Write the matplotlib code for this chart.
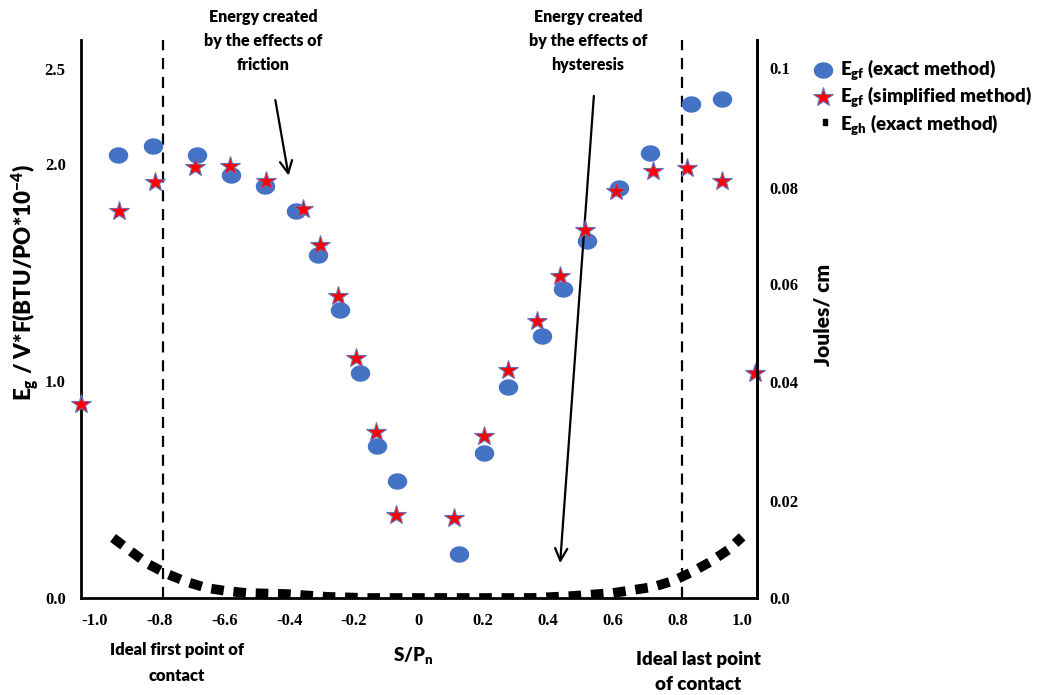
import numpy as np
import matplotlib
matplotlib.use("Agg")
import matplotlib.pyplot as plt
from matplotlib.path import Path

# data
x_exact = [-0.928, -0.822, -0.686, -0.581, -0.474, -0.379, -0.311, -0.244, -0.181, -0.128,
           -0.066, 0.124, 0.202, 0.278, 0.382, 0.446, 0.520, 0.620, 0.716, 0.843, 0.939]
egf_exact = [2.042, 2.083, 2.042, 1.949, 1.898, 1.783, 1.580, 1.328, 1.036, 0.699,
             0.540, 0.205, 0.670, 0.975, 1.210, 1.426, 1.646, 1.891, 2.052, 2.280, 2.303]

x_simpl = [-1.043, -0.927, -0.815, -0.690, -0.583, -0.471, -0.357, -0.304, -0.249, -0.193,
           -0.132, -0.070, 0.109, 0.203, 0.278, 0.367, 0.437, 0.515, 0.610, 0.724,
           0.829, 0.937, 1.040]
egf_simpl = [0.896, 1.784, 1.918, 1.988, 1.992, 1.923, 1.795, 1.630, 1.392, 1.105,
             0.767, 0.383, 0.371, 0.748, 1.053, 1.279, 1.487, 1.695, 1.875, 1.969,
             1.985, 1.923, 1.036]

x_egh = [-0.944, -0.886, -0.836, -0.777, -0.716, -0.654, -0.592, -0.530, -0.406, -0.280,
         -0.156, -0.029, 0.097, 0.221, 0.351, 0.474, 0.601, 0.725, 0.787, 0.845,
         0.901, 0.957, 1.0]
egh_exact = [0.277, 0.212, 0.157, 0.111, 0.074, 0.046, 0.032, 0.023, 0.018, 0.005,
             0.0, 0.0, 0.0, 0.0, 0.0, 0.009, 0.023, 0.051, 0.079, 0.120,
             0.166, 0.222, 0.282]

contact_lines = [-0.79, 0.815]

x_ticks = [-1.0, -0.8, -0.6, -0.4, -0.2, 0.0, 0.2, 0.4, 0.6, 0.8, 1.0]
x_tick_labels = ["-1.0", "-0.8", "-6.6", "-0.4", "-0.2", "0", "0.2", "0.4", "0.6", "0.8", "1.0"]
left_ticks = [0.0, 1.0, 2.0, 2.44]
left_tick_labels = ["0.0", "1.0", "2.0", "2.5"]
right_ticks = [0.0, 0.448, 0.998, 1.446, 1.889, 2.443]
right_tick_labels = ["0.0", "0.02", "0.04", "0.06", "0.08", "0.1"]

SANS = ["Lato", "DejaVu Sans"]
SERIF = ["Liberation Serif", "DejaVu Serif"]
WEIGHT = "heavy"
plt.rcParams["mathtext.fontset"] = "custom"
plt.rcParams["mathtext.rm"] = "Lato:heavy"
plt.rcParams["mathtext.bf"] = "Lato:heavy"
plt.rcParams["mathtext.it"] = "Lato:heavy"

W, H = 1043, 695
fig = plt.figure(figsize=(W / 100, H / 100), dpi=100)
ax = fig.add_axes([81 / W, 1 - 598 / H, (757 - 81) / W, (598 - 40) / H])

t = np.linspace(0, 2 * np.pi, 60)
ellipse = Path(np.column_stack([1.2 * np.cos(t), np.sin(t)]), closed=True)
rect = Path([(0, 0), (0.7, 0), (0.7, 1), (0, 1), (0, 0)], closed=True)

blue = "#4472C4"
ax.plot(x_egh, egh_exact, color="black", lw=7, linestyle=(0, (1.3, 1.0)),
        solid_capstyle="butt", dash_capstyle="butt", zorder=2)
ax.plot(x_exact, egf_exact, linestyle="none", marker=ellipse, markersize=13,
        color=blue, markeredgecolor=blue, zorder=3)
ax.plot(x_simpl, egf_simpl, linestyle="none", marker="*", markersize=15,
        markerfacecolor="#FF0000", markeredgecolor="#6A6FB8", markeredgewidth=0.8,
        zorder=4, clip_on=False)

for xv in contact_lines:
    ax.axvline(xv, color="black", lw=1.6, linestyle=(0, (5, 3.5)), zorder=1)

ax.set_xlim(-1.043, 1.046)
ax.set_ylim(0, 2.573)
ax.set_xticks(x_ticks)
ax.set_xticklabels(x_tick_labels, family=SERIF, fontweight="bold", fontsize=12)
ax.set_yticks(left_ticks)
ax.set_yticklabels(left_tick_labels, family=SERIF, fontweight="bold", fontsize=12)
ax.tick_params(length=0, pad=11)
for s in ["left", "bottom", "right"]:
    ax.spines[s].set_linewidth(2)
ax.spines["top"].set_visible(False)

ax2 = ax.twinx()
ax2.set_ylim(ax.get_ylim())
ax2.set_yticks(right_ticks)
ax2.set_yticklabels(right_tick_labels, family=SERIF, fontweight="bold", fontsize=12)
ax2.tick_params(length=0, pad=9)
for s in ["top", "left", "bottom"]:
    ax2.spines[s].set_visible(False)
ax2.spines["right"].set_linewidth(2)

# arrows
ax.annotate("", xy=(-0.400, 1.935), xytext=(-0.444, 2.309),
            arrowprops=dict(arrowstyle="->", lw=1.6, color="black", mutation_scale=22),
            annotation_clip=False)
ax.annotate("", xy=(0.437, 0.148), xytext=(0.5425, 2.328),
            arrowprops=dict(arrowstyle="->", lw=1.6, color="black", mutation_scale=22),
            annotation_clip=False)

def ftext(px, py, s, **kw):
    fig.text(px / W, 1 - py / H, s, family=SANS, fontweight=WEIGHT, **kw)

ftext(263, 41, "Energy created\nby the effects of\nfriction", fontsize=11.5,
      ha="center", va="center", linespacing=1.6)
ftext(588, 41, "Energy created\nby the effects of\nhysteresis", fontsize=11.5,
      ha="center", va="center", linespacing=1.6)
ftext(177, 663, "Ideal first point of\ncontact", fontsize=12,
      ha="center", va="center", linespacing=1.7)
ftext(698, 672, "Ideal last point\nof contact", fontsize=13.5,
      ha="center", va="center", linespacing=1.5)
ftext(413, 656, r"S/P$_\mathrm{n}$", fontsize=13.5, ha="center", va="center")
ftext(25, 283, r"E$_\mathrm{g}$ / V*F(BTU/PO*10$^{\mathrm{-4}}$)", fontsize=16,
      ha="center", va="center", rotation=90)
ftext(823, 315, "Joules/ cm", fontsize=15, ha="center", va="center", rotation=90)

# legend
leg_rows = [(70, "exact", r"E$_\mathrm{gf}$ (exact method)"),
            (97, "simpl", r"E$_\mathrm{gf}$ (simplified method)"),
            (125, "egh", r"E$_\mathrm{gh}$ (exact method)")]
for py, kind, label in leg_rows:
    mx, my = 823 / W, 1 - py / H
    if kind == "exact":
        fig.lines.append(plt.Line2D([mx], [my], marker=ellipse, markersize=13, color=blue,
                                    linestyle="none", transform=fig.transFigure))
    elif kind == "simpl":
        fig.lines.append(plt.Line2D([mx], [my], marker="*", markersize=15,
                                    markerfacecolor="#FF0000", markeredgecolor="#6A6FB8",
                                    markeredgewidth=0.8, linestyle="none",
                                    transform=fig.transFigure))
    else:
        fig.lines.append(plt.Line2D([mx], [my], marker=rect, markersize=9, color="black",
                                    linestyle="none", transform=fig.transFigure))
    ftext(840, py, label, fontsize=13.5, ha="left", va="center")

fig.savefig("out.png", dpi=100)
